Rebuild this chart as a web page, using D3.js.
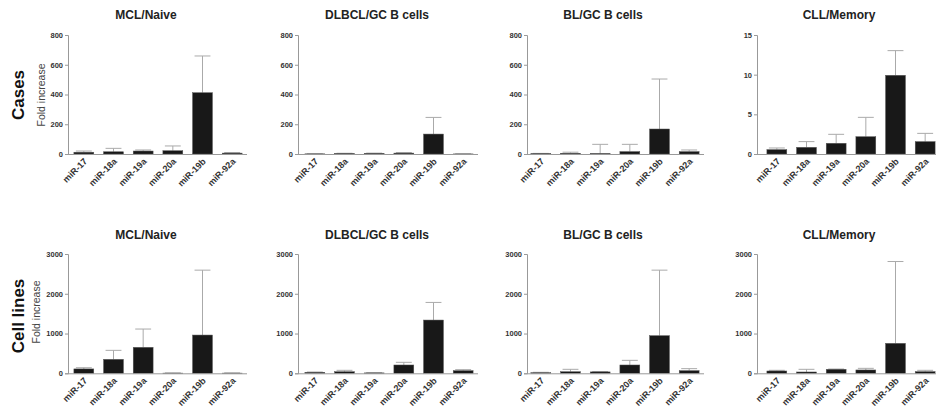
<!DOCTYPE html>
<html>
<head>
<meta charset="utf-8">
<script src="https://cdn.jsdelivr.net/npm/d3@7"></script>
<style>
  body { margin: 0; background: #fff; }
  text { font-family: Arial, "Liberation Sans", sans-serif; }
  .title text { font-weight: bold; font-size: 12px; fill: #222; }
  .y.axis text { font-weight: bold; font-size: 7.5px; fill: #333; }
  .xlab { font-weight: bold; font-size: 9px; fill: #333; }
  .ylabel { font-size: 10.5px; fill: #444; }
  .rowlabel { font-weight: bold; font-size: 17px; fill: #111; }
</style>
</head>
<body>
<svg id="svg-1"></svg>
<script>
//
// DATA
//
var mirs = ["miR-17", "miR-18a", "miR-19a", "miR-20a", "miR-19b", "miR-92a"];
var panelTitles = ["MCL/Naive", "DLBCL/GC B cells", "BL/GC B cells", "CLL/Memory"];
var rowLabels = ["Cases", "Cell lines"];

var casesTicks = [0, 200, 400, 600, 800];
var casesCllTicks = [0, 5, 10, 15];
var cellTicks = [0, 1000, 2000, 3000];

// cases: mean and upper error
var casesMcl      = [12, 15, 20, 22, 412, 6];
var casesMclErr   = [20, 38, 27, 54, 659, 10];
var casesDlbcl    = [1, 3, 4, 6, 134, 0.5];
var casesDlbclErr = [1, 5, 6, 10, 246, 1];
var casesBl       = [2, 5, 3, 16, 168, 16];
var casesBlErr    = [4, 12, 65, 65, 504, 27];
var casesCll      = [0.55, 0.84, 1.35, 2.18, 9.92, 1.56];
var casesCllErr   = [0.76, 1.56, 2.48, 4.62, 13.03, 2.6];

// cell lines
var cellMcl      = [110, 351, 653, 5, 962, 5];
var cellMclErr   = [140, 577, 1113, 10, 2594, 10];
var cellDlbcl    = [25, 40, 10, 209, 1339, 67];
var cellDlbclErr = [33, 75, 15, 276, 1782, 92];
var cellBl       = [15, 40, 35, 209, 946, 67];
var cellBlErr    = [25, 100, 45, 326, 2594, 117];
var cellCll      = [58, 33, 100, 84, 753, 42];
var cellCllErr   = [75, 100, 108, 125, 2811, 75];

var rows = [
  {vals: [casesMcl, casesDlbcl, casesBl, casesCll],
   errs: [casesMclErr, casesDlbclErr, casesBlErr, casesCllErr],
   ticks: [casesTicks, casesTicks, casesTicks, casesCllTicks]},
  {vals: [cellMcl, cellDlbcl, cellBl, cellCll],
   errs: [cellMclErr, cellDlbclErr, cellBlErr, cellCllErr],
   ticks: [cellTicks, cellTicks, cellTicks, cellTicks]}
];

//
// LAYOUT
//
var width = 936, height = 417;
var axisX = [68, 298, 527, 757];
var bandX = [69, 300, 526, 762];
var bandW = 178;
var rowTop = [35, 254], rowBase = [154, 373.3];
var titleY = [19, 239];
var titleX = [146, 377, 603, 839];

var svg = d3.select("#svg-1")
  .attr("width", width)
  .attr("height", height);

rows.forEach(function(row, r) {
  row.vals.forEach(function(vals, p) {
    var ticks = row.ticks[p];
    var x = d3.scaleBand()
      .domain(mirs)
      .range([bandX[p], bandX[p] + bandW])
      .paddingInner(0.33)
      .paddingOuter(0.165);
    var y = d3.scaleLinear()
      .domain([0, d3.max(ticks)])
      .range([rowBase[r], rowTop[r]]);

    var g = svg.append("g").attr("class", "panel");
    var data = mirs.map(function(m, i) {
      return {name: m, value: vals[i], err: row.errs[p][i]};
    });

    // error bars (upper only)
    var capW = x.bandwidth() * 0.8;
    g.selectAll(".err")
      .data(data)
      .enter().append("line")
      .attr("x1", function(d) { return x(d.name) + x.bandwidth() / 2; })
      .attr("x2", function(d) { return x(d.name) + x.bandwidth() / 2; })
      .attr("y1", function(d) { return y(d.value); })
      .attr("y2", function(d) { return y(d.err); })
      .attr("stroke", "#aaa")
      .attr("stroke-width", 1);
    g.selectAll(".cap")
      .data(data)
      .enter().append("line")
      .attr("x1", function(d) { return x(d.name) + x.bandwidth() / 2 - capW / 2; })
      .attr("x2", function(d) { return x(d.name) + x.bandwidth() / 2 + capW / 2; })
      .attr("y1", function(d) { return y(d.err); })
      .attr("y2", function(d) { return y(d.err); })
      .attr("stroke", "#aaa")
      .attr("stroke-width", 1);

    // bars
    g.selectAll(".bar")
      .data(data)
      .enter().append("rect")
      .attr("class", "bar")
      .attr("x", function(d) { return x(d.name); })
      .attr("y", function(d) { return y(d.value); })
      .attr("width", x.bandwidth())
      .attr("height", function(d) { return y(0) - y(d.value); })
      .attr("fill", "#181818")
      .attr("stroke", "#555")
      .attr("stroke-width", 0.5);

    // y axis
    var yAxis = d3.axisLeft(y).tickValues(ticks).tickSize(3).tickPadding(2).tickFormat(d3.format("d"));
    var ya = g.append("g")
      .attr("class", "y axis")
      .attr("transform", "translate(" + axisX[p] + ",0)")
      .call(yAxis);
    ya.select(".domain").attr("stroke", "#999");
    ya.selectAll(".tick line").attr("stroke", "#999");

    // x axis line
    g.append("line")
      .attr("x1", axisX[p])
      .attr("x2", bandX[p] + bandW)
      .attr("y1", y(0) + 0.5)
      .attr("y2", y(0) + 0.5)
      .attr("stroke", "#999");

    // x labels
    g.selectAll(".xlab")
      .data(mirs)
      .enter().append("text")
      .attr("class", "xlab")
      .attr("text-anchor", "end")
      .attr("transform", function(d) {
        return "translate(" + (x(d) + x.bandwidth() / 2 + 4) + "," + (y(0) + 8) + ") rotate(-45)";
      })
      .text(function(d) { return d; });

    // title
    g.append("g")
      .attr("class", "title")
      .append("text")
        .attr("x", titleX[p])
        .attr("y", titleY[r])
        .attr("text-anchor", "middle")
        .text(panelTitles[p]);

    if (p === 0) {
      g.append("text")
        .attr("class", "ylabel")
        .attr("text-anchor", "middle")
        .attr("transform", "translate(" + (r === 0 ? 45 : 40) + "," + (r === 0 ? 95 : 312) + ") rotate(-90)")
        .text("Fold increase");
      g.append("text")
        .attr("class", "rowlabel")
        .attr("text-anchor", "middle")
        .attr("transform", "translate(24," + (r === 0 ? 95 : 316) + ") rotate(-90)")
        .text(rowLabels[r]);
    }
  });
});
</script>
</body>
</html>
